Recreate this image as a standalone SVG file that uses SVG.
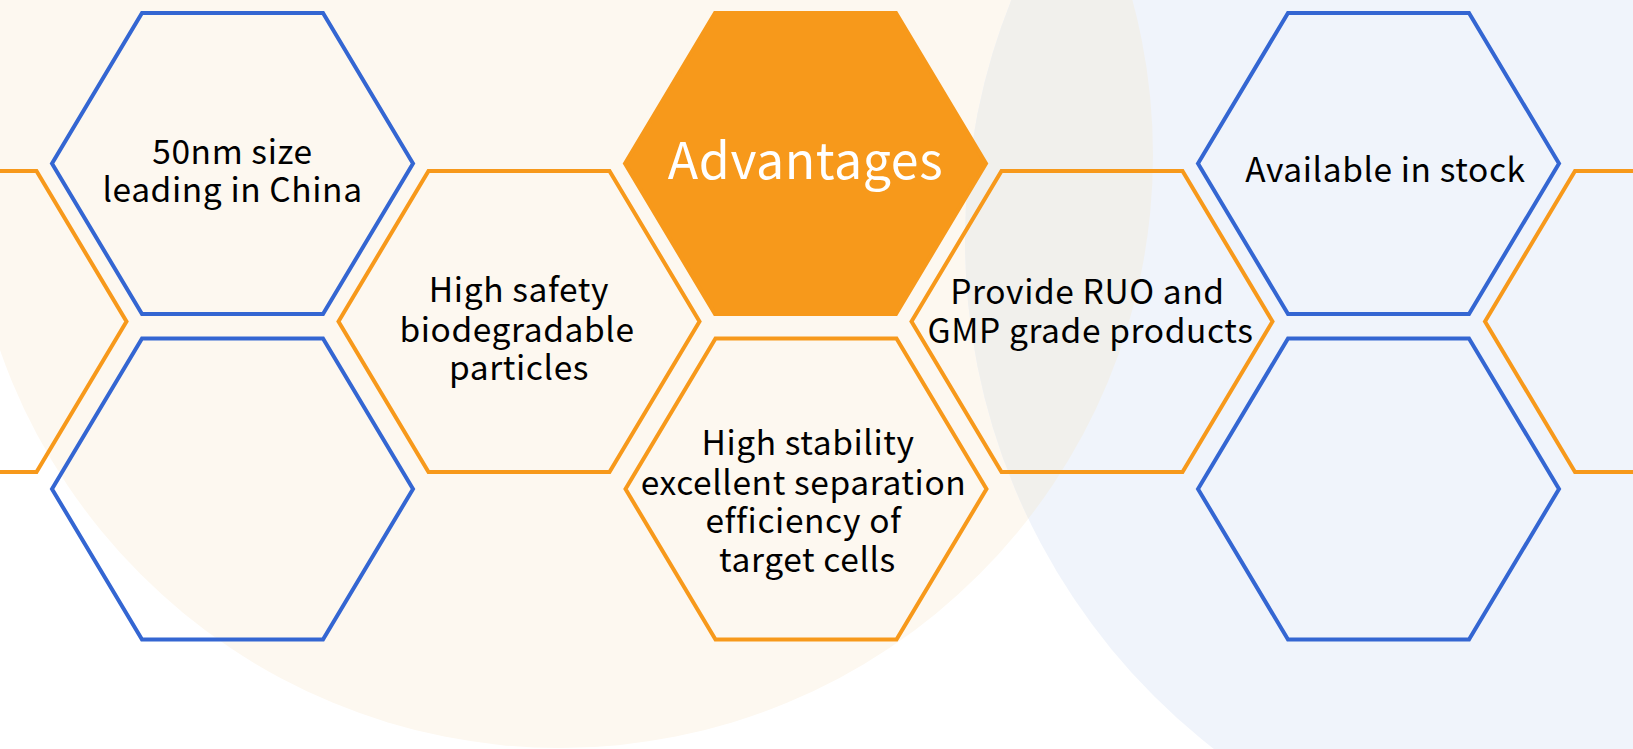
<svg xmlns="http://www.w3.org/2000/svg" xmlns:xlink="http://www.w3.org/1999/xlink" width="1633" height="749" viewBox="0 0 1633 749">
  <style>
    .hb { fill: none; stroke: #3466D2; stroke-width: 4; stroke-linejoin: miter; }
    .ho { fill: none; stroke: #F7991B; stroke-width: 4; stroke-linejoin: miter; }
    .hf { fill: #F7991B; stroke: #F7991B; stroke-width: 4; }
    .t { font-family: "Noto Sans CJK SC", "Noto Sans", sans-serif; font-size: 33.5px; fill: #000; text-anchor: middle; letter-spacing: 0.6px; }
    .tw { font-family: "Noto Sans CJK SC", "Noto Sans", sans-serif; font-size: 50px; fill: #fff; text-anchor: middle; letter-spacing: 0.6px; }
  </style>
  <defs>
    <polygon id="hex" points="-180.5,0 -90.5,-150.5 90.5,-150.5 180.5,0 90.5,150.5 -90.5,150.5"/>
    <clipPath id="creamClip">
      <circle cx="560" cy="155" r="593"/>
    </clipPath>
  </defs>

  <g id="background">
    <rect x="0" y="0" width="1633" height="749" fill="#FFFFFF"/>
    <circle cx="560" cy="155" r="593" fill="#FDF8F0"/>
    <circle cx="1610" cy="240" r="645" fill="#F0F4FB"/>
    <circle cx="1610" cy="240" r="645" fill="#F1F0EC" clip-path="url(#creamClip)"/>
  </g>

  <g id="connectors"></g>

  <g id="hex-left-partial">
    <use href="#hex" class="ho" transform="translate(-54,321.5)"/>
  </g>

  <g id="hex-50nm">
    <use href="#hex" class="hb" transform="translate(232.5,163.5)"/>
    <text class="t" x="232.5" y="163.5">50nm size</text>
    <text class="t" x="232.5" y="202">leading in China</text>
  </g>

  <g id="hex-blue-bottom-left">
    <use href="#hex" class="hb" transform="translate(232.5,489)"/>
  </g>

  <g id="hex-safety">
    <use href="#hex" class="ho" transform="translate(519,321.5)"/>
    <text class="t" x="519" y="302">High safety</text>
    <text class="t" x="517" y="341.5">biodegradable</text>
    <text class="t" x="519" y="380">particles</text>
  </g>

  <g id="hex-advantages">
    <use href="#hex" class="hf" transform="translate(805.5,163.5)"/>
    <text class="tw" x="805.5" y="178.5">Advantages</text>
  </g>

  <g id="hex-stability">
    <use href="#hex" class="ho" transform="translate(806,489)"/>
    <text class="t" x="808" y="455">High stability</text>
    <text class="t" x="803.5" y="494.5">excellent separation</text>
    <text class="t" x="803.5" y="533">efficiency of</text>
    <text class="t" x="807.5" y="571.5">target cells</text>
  </g>

  <g id="hex-ruo-gmp">
    <use href="#hex" class="ho" transform="translate(1092,321.5)"/>
    <text class="t" x="1087.5" y="303.5">Provide RUO and</text>
    <text class="t" x="1090.5" y="343">GMP grade products</text>
  </g>

  <g id="hex-stock">
    <use href="#hex" class="hb" transform="translate(1378.5,163.5)"/>
    <text class="t" x="1385.5" y="181.5">Available in stock</text>
  </g>

  <g id="hex-blue-bottom-right">
    <use href="#hex" class="hb" transform="translate(1378.5,489)"/>
  </g>

  <g id="hex-right-partial">
    <use href="#hex" class="ho" transform="translate(1665.5,321.5)"/>
  </g>
</svg>
